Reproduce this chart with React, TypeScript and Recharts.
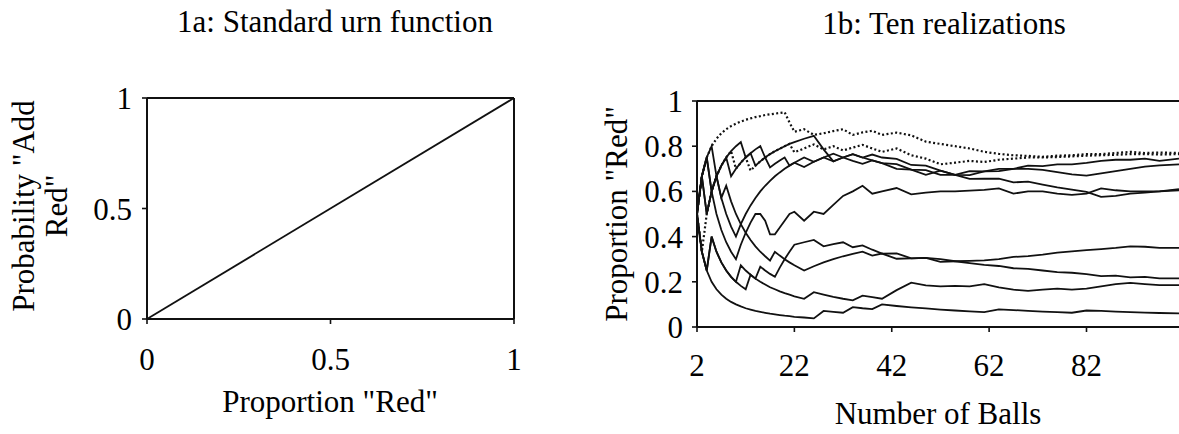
import { LineChart, Line, XAxis, YAxis, Label, ReferenceLine } from "recharts";

const FONT = '"Liberation Serif", "Times New Roman", Times, serif';
const FS = 31;
const INK = "#111";

// 1a: standard urn function
const urnProportion = [0, 1];
const urnProbability = [0, 1];
const unitTicks = [0, 0.5, 1];

// 1b: ten realizations, proportion red after n balls
const balls = [
  2, 3, 4, 5, 6, 7, 8, 9, 10, 11, 12, 13, 14, 15, 16, 17, 18, 19, 20, 21, 22,
  24, 26, 28, 30, 32, 34, 36, 38, 40,
  43, 46, 49, 52, 55, 58, 61, 64, 67, 70, 73, 76, 79, 82, 85, 88, 91, 94, 97, 101,
];
const ballTicks = [2, 22, 42, 62, 82];
const proportionTicks = [0, 0.2, 0.4, 0.6, 0.8, 1];

const runA = [
  0.5, 0.667, 0.75, 0.8, 0.833, 0.857, 0.875, 0.889, 0.9, 0.909, 0.917, 0.923, 0.929, 0.933, 0.938, 0.941, 0.944, 0.947, 0.95, 0.905, 0.864,
  0.875, 0.85, 0.857, 0.867, 0.875, 0.85, 0.861, 0.868, 0.85,
  0.86, 0.848, 0.82, 0.81, 0.8, 0.79, 0.775, 0.766, 0.76, 0.757, 0.753, 0.758, 0.76, 0.765, 0.765, 0.77, 0.775, 0.77, 0.772, 0.77,
];
const runB = [
  0.5, 0.333, 0.5, 0.6, 0.667, 0.714, 0.75, 0.778, 0.7, 0.727, 0.75, 0.692, 0.714, 0.733, 0.75, 0.765, 0.778, 0.789, 0.8, 0.81, 0.773,
  0.79, 0.808, 0.786, 0.8, 0.781, 0.794, 0.806, 0.79, 0.775,
  0.79, 0.76, 0.745, 0.72, 0.727, 0.735, 0.73, 0.74, 0.745, 0.75, 0.75, 0.752, 0.755, 0.758, 0.76, 0.762, 0.765, 0.765, 0.763, 0.765,
];
const runC = [
  0.5, 0.667, 0.75, 0.8, 0.667, 0.714, 0.75, 0.778, 0.8, 0.818, 0.75, 0.769, 0.786, 0.8, 0.75, 0.765, 0.778, 0.789, 0.8, 0.81, 0.818,
  0.833, 0.846, 0.786, 0.733, 0.75, 0.765, 0.75, 0.763, 0.75,
  0.744, 0.717, 0.714, 0.692, 0.673, 0.672, 0.689, 0.7, 0.7, 0.714, 0.712, 0.72, 0.72, 0.726, 0.735, 0.74, 0.74, 0.745, 0.735, 0.745,
];
const runD = [
  0.5, 0.667, 0.5, 0.6, 0.667, 0.714, 0.75, 0.667, 0.7, 0.727, 0.75, 0.769, 0.714, 0.733, 0.75, 0.706, 0.722, 0.737, 0.75, 0.714, 0.727,
  0.75, 0.731, 0.75, 0.767, 0.75, 0.735, 0.722, 0.737, 0.725,
  0.7, 0.696, 0.673, 0.692, 0.673, 0.69, 0.689, 0.69, 0.7, 0.7, 0.695, 0.685, 0.675, 0.67, 0.68, 0.69, 0.7, 0.71, 0.715, 0.72,
];
const runE = [
  0.5, 0.667, 0.75, 0.6, 0.667, 0.571, 0.5, 0.444, 0.4, 0.455, 0.5, 0.538, 0.571, 0.6, 0.625, 0.647, 0.667, 0.684, 0.7, 0.714, 0.727,
  0.708, 0.731, 0.75, 0.733, 0.75, 0.765, 0.75, 0.737, 0.725,
  0.721, 0.696, 0.694, 0.673, 0.673, 0.655, 0.656, 0.656, 0.64, 0.643, 0.63, 0.618, 0.608, 0.598, 0.576, 0.58, 0.59, 0.595, 0.6, 0.61,
];
const runF = [
  0.5, 0.667, 0.75, 0.6, 0.5, 0.429, 0.375, 0.333, 0.3, 0.364, 0.417, 0.462, 0.5, 0.5, 0.47, 0.41, 0.41, 0.44, 0.47, 0.5, 0.51,
  0.47, 0.51, 0.5, 0.54, 0.58, 0.6, 0.625, 0.59, 0.6,
  0.615, 0.587, 0.595, 0.6, 0.6, 0.603, 0.607, 0.613, 0.59, 0.6, 0.6, 0.59, 0.585, 0.59, 0.613, 0.605, 0.6, 0.6, 0.6, 0.605,
];
const runG = [
  0.5, 0.667, 0.5, 0.6, 0.667, 0.571, 0.625, 0.556, 0.5, 0.455, 0.417, 0.385, 0.357, 0.333, 0.313, 0.294, 0.333, 0.316, 0.3, 0.286, 0.273,
  0.25, 0.269, 0.286, 0.3, 0.313, 0.324, 0.333, 0.316, 0.325,
  0.302, 0.304, 0.306, 0.288, 0.291, 0.293, 0.295, 0.3, 0.31, 0.314, 0.32, 0.329, 0.335, 0.34, 0.345, 0.35, 0.357, 0.355, 0.35, 0.35,
];
const runH = [
  0.5, 0.333, 0.25, 0.4, 0.333, 0.286, 0.25, 0.222, 0.2, 0.182, 0.167, 0.231, 0.214, 0.267, 0.25, 0.235, 0.222, 0.263, 0.3, 0.333, 0.364,
  0.375, 0.385, 0.357, 0.367, 0.375, 0.353, 0.361, 0.342, 0.325,
  0.326, 0.304, 0.306, 0.3, 0.291, 0.283, 0.275, 0.27, 0.26, 0.257, 0.25, 0.243, 0.24, 0.234, 0.225, 0.227, 0.22, 0.222, 0.215, 0.215,
];
const runI = [
  0.5, 0.333, 0.25, 0.4, 0.333, 0.286, 0.25, 0.222, 0.2, 0.273, 0.25, 0.231, 0.214, 0.2, 0.188, 0.176, 0.167, 0.158, 0.15, 0.143, 0.136,
  0.125, 0.154, 0.143, 0.133, 0.125, 0.118, 0.139, 0.132, 0.125,
  0.163, 0.196, 0.184, 0.18, 0.182, 0.18, 0.19, 0.175, 0.165, 0.16, 0.165, 0.17, 0.165, 0.17, 0.18, 0.19, 0.195, 0.19, 0.185, 0.185,
];
const runJ = [
  0.5, 0.333, 0.25, 0.2, 0.167, 0.143, 0.125, 0.111, 0.1, 0.091, 0.083, 0.077, 0.071, 0.067, 0.063, 0.059, 0.056, 0.053, 0.05, 0.048, 0.045,
  0.042, 0.038, 0.071, 0.067, 0.063, 0.088, 0.083, 0.079, 0.1,
  0.093, 0.087, 0.082, 0.077, 0.073, 0.069, 0.066, 0.078, 0.075, 0.071, 0.068, 0.066, 0.063, 0.073, 0.071, 0.068, 0.066, 0.064, 0.062, 0.06,
];

const realizations = [
  { key: "a", values: runA, dotted: true },
  { key: "b", values: runB, dotted: true },
  { key: "c", values: runC, dotted: false },
  { key: "d", values: runD, dotted: false },
  { key: "e", values: runE, dotted: false },
  { key: "f", values: runF, dotted: false },
  { key: "g", values: runG, dotted: false },
  { key: "h", values: runH, dotted: false },
  { key: "i", values: runI, dotted: false },
  { key: "j", values: runJ, dotted: false },
];

const urnData = urnProportion.map((x, i) => ({ x, p: urnProbability[i] }));
const ballData = balls.map((n, i) => {
  const row: Record<string, number> = { n };
  realizations.forEach((r) => {
    row[r.key] = r.values[i];
  });
  return row;
});

const textStyle = { fontFamily: FONT, fontSize: FS, fill: "#000" };
const tickStyle = { fontFamily: FONT, fontSize: FS, fill: "#000" };
const axisLine = { stroke: INK, strokeWidth: 2 };

// left chart svg sits at page x = 0, right one at page x = 590
const titleA = () => (
  <text x={335} y={32} textAnchor="middle" style={textStyle}>
    1a: Standard urn function
  </text>
);
const xLabelA = () => (
  <text x={330} y={412} textAnchor="middle" style={textStyle}>
    Proportion "Red"
  </text>
);
const yLabelA = () => (
  <text transform="rotate(-90 34 206)" x={34} y={206} textAnchor="middle" style={textStyle}>
    <tspan x={34}>Probability "Add</tspan>
    <tspan x={34} dy={33}>Red"</tspan>
  </text>
);
const titleB = () => (
  <text x={354} y={34} textAnchor="middle" style={textStyle}>
    1b: Ten realizations
  </text>
);
const xLabelB = () => (
  <text x={348} y={424} textAnchor="middle" style={textStyle}>
    Number of Balls
  </text>
);
const yLabelB = () => (
  <text transform="rotate(-90 37 214)" x={37} y={214} textAnchor="middle" style={textStyle}>
    Proportion "Red"
  </text>
);

function UrnChart() {
  return (
    <LineChart width={560} height={434} data={urnData} margin={{ top: 98, right: 46, bottom: 55, left: 87 }}>
      <XAxis
        dataKey="x"
        type="number"
        domain={[0, 1]}
        ticks={unitTicks}
        tick={tickStyle}
        tickSize={5}
        tickMargin={24}
        axisLine={axisLine}
        tickLine={{ stroke: INK, strokeWidth: 1.6 }}
        height={60}
      >
        <Label content={xLabelA} />
      </XAxis>
      <YAxis
        type="number"
        domain={[0, 1]}
        ticks={unitTicks}
        tick={tickStyle}
        tickSize={5}
        tickMargin={10}
        axisLine={axisLine}
        tickLine={{ stroke: INK, strokeWidth: 1.6 }}
        width={60}
      >
        <Label content={yLabelA} />
        <Label content={titleA} />
      </YAxis>
      <ReferenceLine y={1} stroke={INK} strokeWidth={2} />
      <ReferenceLine x={1} stroke={INK} strokeWidth={2} />
      <Line dataKey="p" stroke={INK} strokeWidth={1.8} dot={false} isAnimationActive={false} />
    </LineChart>
  );
}

function RealizationChart() {
  return (
    <LineChart width={589} height={434} data={ballData} margin={{ top: 101, right: 0, bottom: 47, left: 47 }}>
      <XAxis
        dataKey="n"
        type="number"
        domain={[2, 101]}
        ticks={ballTicks}
        tick={tickStyle}
        tickSize={5}
        tickMargin={22}
        axisLine={axisLine}
        tickLine={{ stroke: INK, strokeWidth: 1.6 }}
        height={60}
        allowDataOverflow
      >
        <Label content={xLabelB} />
      </XAxis>
      <YAxis
        type="number"
        domain={[0, 1]}
        ticks={proportionTicks}
        tick={tickStyle}
        tickSize={5}
        tickMargin={9}
        axisLine={axisLine}
        tickLine={{ stroke: INK, strokeWidth: 1.6 }}
        width={60}
      >
        <Label content={yLabelB} />
        <Label content={titleB} />
      </YAxis>
      <ReferenceLine y={1} stroke={INK} strokeWidth={2} />
      {realizations.map((r) => (
        <Line
          key={r.key}
          dataKey={r.key}
          stroke={INK}
          strokeWidth={r.dotted ? 2.2 : 1.8}
          strokeDasharray={r.dotted ? "2 2.4" : undefined}
          dot={false}
          isAnimationActive={false}
        />
      ))}
    </LineChart>
  );
}

export default function App() {
  return (
    <div style={{ position: "absolute", left: 0, top: 0, width: 1179, height: 434, background: "#fff", overflow: "hidden" }}>
      <div style={{ position: "absolute", left: 0, top: 0 }}>
        <UrnChart />
      </div>
      <div style={{ position: "absolute", left: 590, top: 0 }}>
        <RealizationChart />
      </div>
    </div>
  );
}
